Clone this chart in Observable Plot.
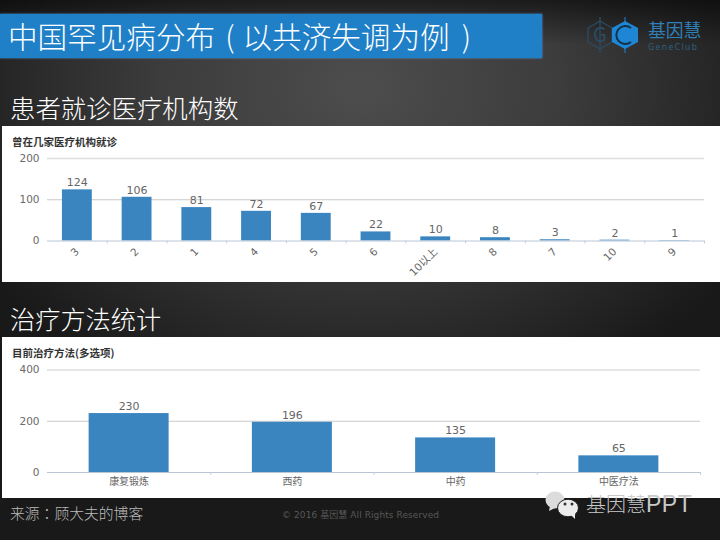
<!DOCTYPE html>
<html><head><meta charset="utf-8">
<script src="https://cdn.jsdelivr.net/npm/d3@7"></script>
<script src="https://cdn.jsdelivr.net/npm/@observablehq/plot@0.6"></script>
<style>
html,body{margin:0;padding:0;width:720px;height:540px;overflow:hidden}
body{position:relative;font-family:"Noto Sans CJK SC","Noto Sans",sans-serif;
background:linear-gradient(180deg,rgba(0,0,0,.55) 0,rgba(0,0,0,0) 45px),radial-gradient(ellipse 62% 62% at 50% 16%,#4d4d4d 0%,#3c3c3c 45%,#232323 85%,#191919 100%),#1b1b1b}
.a{position:absolute;white-space:nowrap;line-height:1}
.panel{position:absolute;background:#fff;left:2px;width:718px}
.panel svg{display:block;position:absolute;left:0;top:0;background:transparent}
</style></head><body>
<div class="a" style="left:0;top:14px;width:542px;height:44px;background:#1f80c8;box-shadow:0 0 2px #4aa0dc"></div>
<div class="a" id="t" style="left:8px;top:21px;font-size:29.6px;font-weight:300;color:#fff">中国罕见病分布<span style="margin:0 8px 0 10px">(</span>以共济失调为例<span style="margin-left:12px">)</span></div>
<svg class="a" style="left:585px;top:12px" width="56" height="46" viewBox="0 0 56 46">
<g fill="none" stroke="#2a4c64" stroke-width="1.3"><path d="M15 9 L27 16 L27 30 L15 37 L3 30 L3 16Z M15 5 V41"/></g>
<path d="M40 5 V41" stroke="#1f86d6" stroke-width="1"/>
<path d="M40 9 L53 16 L53 30 L40 37 L27 30 L27 16Z" fill="#1f86d6"/>
<path d="M46 16 A9 9 0 1 0 46 30" fill="none" stroke="#12324a" stroke-width="2"/>
<text x="15" y="30" font-size="20" text-anchor="middle" fill="#2a4c64">G</text>
</svg>
<div class="a" style="left:648px;top:21px;font-size:17.8px;color:#2f7fb8">基因慧</div>
<div class="a" style="left:648px;top:43px;font-size:8.5px;letter-spacing:1.4px;color:#2c5f82;font-family:'Noto Sans'">GeneClub</div>
<div class="a" style="left:10px;top:95px;font-size:25.4px;font-weight:300;color:#fff">患者就诊医疗机构数</div>
<div class="panel" id="p1" style="top:126px;height:156px"><div class="a" style="left:10px;top:11px;font-size:10.5px;font-weight:700;color:#333">曾在几家医疗机构就诊</div></div>
<div class="a" style="left:10px;top:306px;font-size:25.2px;font-weight:300;color:#fff">治疗方法统计</div>
<div class="panel" id="p2" style="top:337px;height:161px"><div class="a" style="left:10px;top:11px;font-size:10.5px;font-weight:700;color:#333">目前治疗方法(多选项)</div></div>
<div class="a" style="left:10px;top:506px;font-size:14.8px;font-weight:300;color:#bbb">来源<span style="font-family:'Noto Sans CJK TC'">：</span>顾大夫的博客</div>
<div class="a" style="left:282px;top:511px;font-size:9px;color:#585858;letter-spacing:.08px;font-family:'DejaVu Sans','Noto Sans CJK SC'">© 2016 基因慧 All Rights Reserved</div>
<svg class="a" style="left:544px;top:490px" width="40" height="30" viewBox="0 0 40 30">
<ellipse cx="11" cy="10" rx="9.5" ry="8.5" fill="#dcdcdc"/><path d="M6 16 L5 21 L11 18Z" fill="#dcdcdc"/>
<ellipse cx="24" cy="18" rx="10.5" ry="8.8" fill="#ececec" stroke="#1b1b1b"/><path d="M27 25 L31 29 L31 23Z" fill="#ececec"/>
<circle cx="21" cy="14" r="1.5" fill="#333"/><circle cx="28" cy="14" r="1.5" fill="#333"/></svg>
<div class="a" style="left:586px;top:493px;font-size:20px;font-weight:300;color:#c9c9c9">基因慧<span style="font-size:23px;letter-spacing:.5px;font-family:'Liberation Sans'">PPT</span></div>
<script>
const visitCats = ["3","2","1","4","5","6","10以上","8","7","10","9"];
const visitVals = [124,106,81,72,67,22,10,8,3,2,1];
const visitTicks = [0,100,200];
const treatCats = ["康复锻炼","西药","中药","中医疗法"];
const treatVals = [230,196,135,65];
const treatTicks = [0,200,400];

const font = '"DejaVu Sans","Noto Sans CJK SC",sans-serif';
function chart({cats, vals, ticks, width, height, ml, mr, mt, mb, pad, rotate}){
  const step = (width - ml - mr) / cats.length;
  const rows = cats.map((c,i)=>({c, v:vals[i]}));
  return Plot.plot({
    width, height, marginLeft:ml, marginRight:mr, marginTop:mt, marginBottom:mb,
    style:{background:"transparent", fontFamily:font},
    x:{domain:cats, paddingInner:pad, paddingOuter:pad/2, round:false, label:null, align:0.5},
    y:{domain:[ticks[0],ticks[2]], label:null},
    marks:[
      Plot.ruleY([ticks[1]],{stroke:"#c9c9c9",strokeWidth:1}),
      Plot.ruleY([ticks[2]],{stroke:"#dedede",strokeWidth:1.6}),
      Plot.barY(rows,{x:"c",y:"v",fill:"#3a85c0"}),
      Plot.ruleY([0],{stroke:"#b8c6d6",strokeWidth:1}),
      Plot.ruleX(cats,{x:d=>d,y1:0,y2:0,dx:step/2,insetBottom:-3,stroke:"#c4ced8",strokeWidth:1}),
      Plot.text(rows,{x:"c",y:"v",text:d=>String(d.v),dy:-7,fill:"#666",fontSize:11,stroke:"none"}),
      Plot.axisY({ticks,tickSize:0,tickPadding:8,fontSize:10.5,color:"#6a6a6a",label:null}),
      Plot.axisX({tickSize:0,tickPadding:rotate?9:5,tickRotate:rotate?-45:0,fontSize:rotate?10.5:10,color:"#666",label:null})
    ]
  });
}
document.getElementById("p1").appendChild(chart({cats:visitCats,vals:visitVals,ticks:visitTicks,width:718,height:156,ml:45,mr:16,mt:32,mb:41.5,pad:.5,rotate:true}));
document.getElementById("p2").appendChild(chart({cats:treatCats,vals:treatVals,ticks:treatTicks,width:718,height:161,ml:45,mr:20,mt:32.5,mb:26,pad:.51,rotate:false}));
</script>
</body></html>
